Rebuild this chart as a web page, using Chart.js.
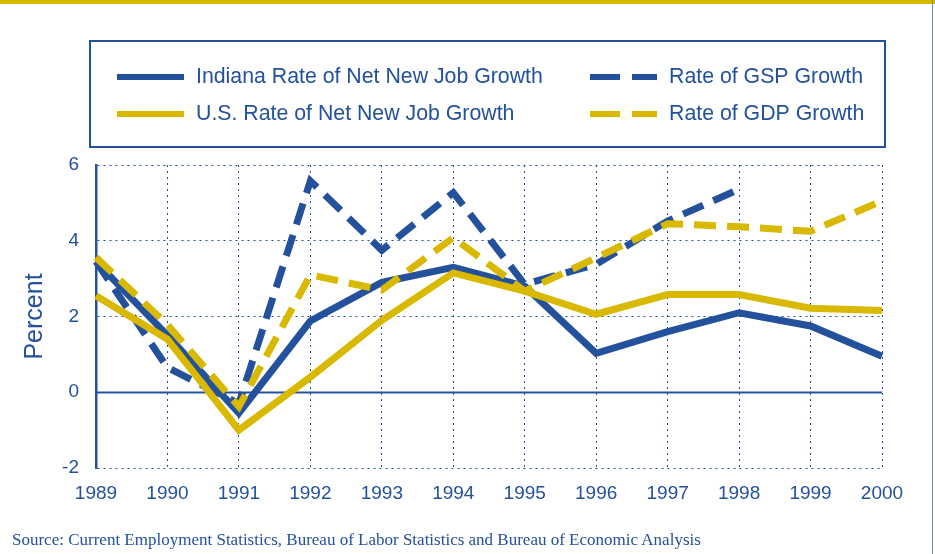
<!DOCTYPE html>
<html>
<head>
<meta charset="utf-8">
<script src="https://cdn.jsdelivr.net/npm/chart.js@4/dist/chart.umd.min.js"></script>
<style>
  html,body{margin:0;padding:0;background:#fff;}
  #wrap{position:relative;width:935px;height:554px;overflow:hidden;}
  #topbar{position:absolute;left:0;top:0;width:935px;height:4px;background:#d9b800;}
  #edge{position:absolute;left:932px;top:0;width:1px;height:554px;background:#6d8dbd;}
  #src{position:absolute;left:12px;top:530px;font:17px "Liberation Serif","Times New Roman",serif;color:#24519b;white-space:nowrap;}
</style>
</head>
<body>
<div id="wrap">
  <canvas id="c" width="935" height="554"></canvas>
  <div id="topbar"></div>
  <div id="edge"></div>
  <div id="src">Source: Current Employment Statistics, Bureau of Labor Statistics and Bureau of Economic Analysis</div>
</div>
<script>
const years=['1989','1990','1991','1992','1993','1994','1995','1996','1997','1998','1999','2000'];
const indianaJobs=[3.45,1.5,-0.55,1.88,2.9,3.3,2.8,1.03,1.6,2.1,1.75,0.95];
const usJobs=[2.55,1.4,-1.0,0.4,1.9,3.15,2.67,2.06,2.58,2.58,2.22,2.16];
const gspGrowth=[3.45,0.65,-0.3,5.58,3.75,5.27,2.85,3.38,4.52,5.36,null,null];
const gdpGrowth=[3.56,1.78,-0.38,3.1,2.7,4.08,2.67,3.55,4.45,4.37,4.25,5.05];
const yTicks=[-2,0,2,4,6];

const BLUE='#24519b', GOLD='#d9b800';
const FONT='"Liberation Sans", Arial, sans-serif';

// legend box in the top margin, two columns x two rows
const legendBox={
  id:'legendBox',
  afterDraw(chart){
    const ctx=chart.ctx;
    ctx.save();
    ctx.strokeStyle=BLUE; ctx.lineWidth=2;
    ctx.strokeRect(90,41,795,106);
    const slots=[[117,77],[117,114],[590,77],[590,114]];
    chart.data.datasets.forEach((ds,i)=>{
      const [x,y]=slots[ds.legendSlot];
      ctx.beginPath();
      ctx.strokeStyle=ds.borderColor; ctx.lineWidth=6;
      ctx.setLineDash(ds.borderDash?[30,12]:[]);
      ctx.moveTo(x,y); ctx.lineTo(x+67,y); ctx.stroke();
      ctx.setLineDash([]);
      ctx.fillStyle=BLUE; ctx.font='21.3px '+FONT;
      ctx.textBaseline='middle'; ctx.textAlign='left';
      ctx.fillText(ds.label,x+79,y);
    });
    ctx.restore();
  }
};

// solid zero line under the series
const zeroLine={
  id:'zeroLine',
  beforeDatasetsDraw(chart){
    const {ctx,chartArea,scales:{y}}=chart;
    const py=Math.round(y.getPixelForValue(0))+0.5;
    ctx.save();
    ctx.strokeStyle=BLUE; ctx.lineWidth=2;
    ctx.beginPath(); ctx.moveTo(chartArea.left,py); ctx.lineTo(chartArea.right,py); ctx.stroke();
    ctx.restore();
  }
};

new Chart(document.getElementById('c'),{
  type:'line',
  data:{labels:years,datasets:[
    {label:'Indiana Rate of Net New Job Growth',data:indianaJobs,borderColor:BLUE,legendSlot:0,order:3},
    {label:'U.S. Rate of Net New Job Growth',data:usJobs,borderColor:GOLD,legendSlot:1,order:1},
    {label:'Rate of GSP Growth',data:gspGrowth,borderColor:BLUE,borderDash:[22,11],legendSlot:2,order:2},
    {label:'Rate of GDP Growth',data:gdpGrowth,borderColor:GOLD,borderDash:[22,11],legendSlot:3,order:0}
  ]},
  options:{
    responsive:false,animation:false,
    layout:{padding:{top:165,right:53,bottom:0,left:0}},
    elements:{line:{borderWidth:7,tension:0,fill:false,borderCapStyle:'butt',borderJoinStyle:'miter'},point:{radius:0}},
    plugins:{legend:{display:false},tooltip:{enabled:false}},
    scales:{
      x:{offset:false,
        grid:{color:BLUE,lineWidth:1,drawTicks:false},
        border:{display:false,dash:[2,4]},
        ticks:{color:BLUE,font:{family:FONT,size:19},padding:14,maxRotation:0,autoSkip:false},
        afterFit:s=>{s.height=86;}},
      y:{min:-2,max:6,
        afterBuildTicks:s=>{s.ticks=yTicks.map(v=>({value:v}));},
        grid:{color:BLUE,lineWidth:1,drawTicks:false},
        border:{display:true,color:BLUE,width:2.5,dash:[2,4]},
        ticks:{color:BLUE,font:{family:FONT,size:19},padding:17},
        title:{display:true,text:'Percent',color:BLUE,font:{family:FONT,size:25},padding:{top:20}},
        afterFit:s=>{s.width=96;}}
    }
  },
  plugins:[zeroLine,legendBox]
});
</script>
</body>
</html>
